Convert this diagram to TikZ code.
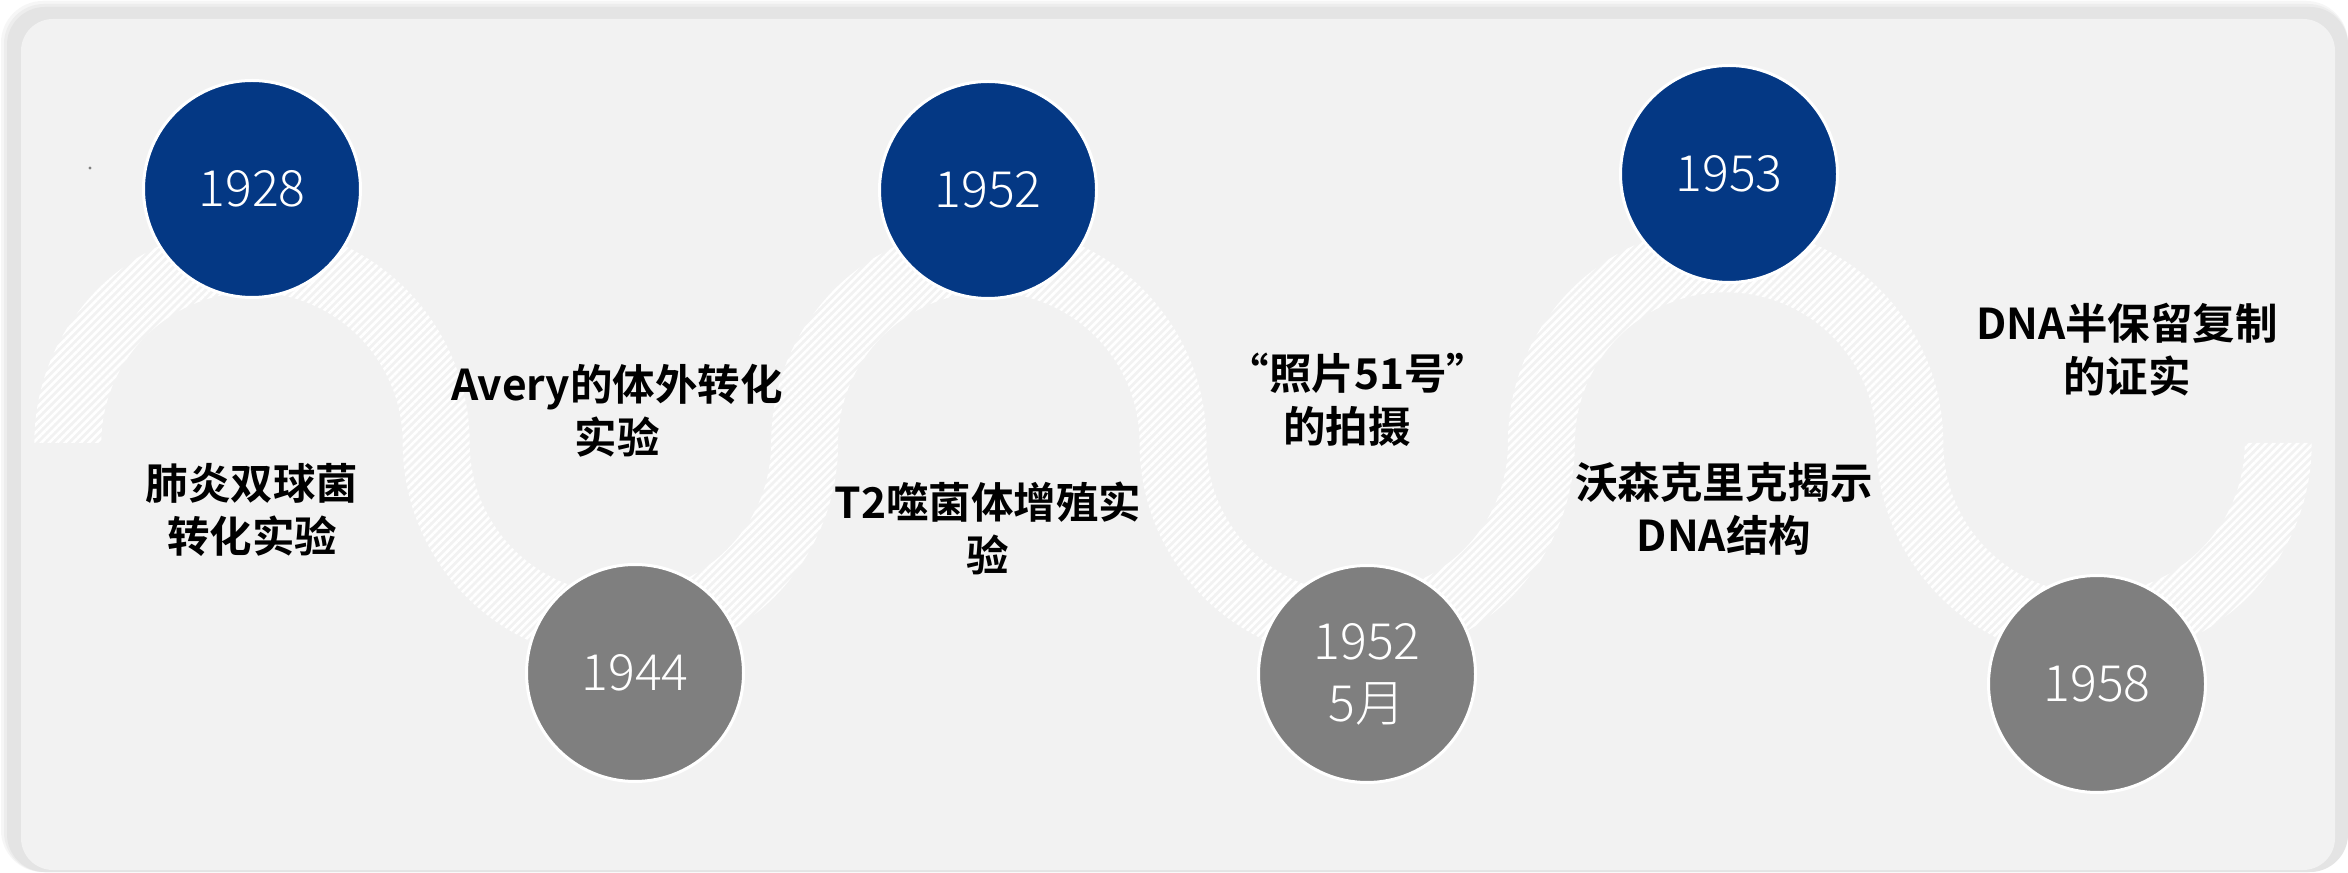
\documentclass[tikz,border=0pt]{standalone}
\usepackage{fontspec}
\newfontfamily\cjkbold{Noto Sans CJK SC Bold}
\newfontfamily\cjklight{Noto Sans CJK SC Light}
\usetikzlibrary{patterns.meta}
\definecolor{panel}{HTML}{F2F2F2}
\definecolor{navy}{HTML}{043884}
\definecolor{midgray}{HTML}{7F7F7F}
\definecolor{shadowA}{HTML}{F6F6F6}
\definecolor{shadowB}{HTML}{EDEDED}
\definecolor{shadowC}{HTML}{E4E4E4}
\begin{document}
\begin{tikzpicture}[x=0.5pt,y=0.5pt,
  yearbox/.style={circle, minimum size=108.5pt, inner sep=0pt, fill=#1, draw=white,
    line width=1.5pt, text=white, align=center,
    font=\cjklight\fontsize{25}{31}\selectfont},
  textlabel/.style={inner sep=0pt, align=center, text=black,
    font=\cjkbold\fontsize{21.25}{26.5}\selectfont},
  bandfill/.style={pattern={Lines[angle=45,distance=2.8pt,line width=1.3pt]}, pattern color=white}]
% canvas and panel
\fill[white] (0,0) rectangle (2348,872);
\useasboundingbox (0,0) rectangle (2348,872);
\fill[shadowA, rounded corners=21pt] (1,0) rectangle (2348,871);
\fill[shadowB, rounded corners=20pt] (4,0) rectangle (2348,868);
\fill[shadowC, rounded corners=19pt] (7,0) rectangle (2348,865);
\fill[panel, rounded corners=16pt] (21,2) rectangle (2335,853);
% hatched wave band
\path[bandfill] (34.3,429)
  arc[start angle=180,end angle=0,radius=108.85pt]
  arc[start angle=180,end angle=360,radius=75.35pt]
  arc[start angle=180,end angle=0,radius=108.85pt]
  arc[start angle=180,end angle=360,radius=75.35pt]
  arc[start angle=180,end angle=0,radius=108.85pt]
  arc[start angle=180,end angle=360,radius=75.35pt]
  -- ++(67,0)
  arc[start angle=0,end angle=-180,radius=108.85pt]
  arc[start angle=0,end angle=180,radius=75.35pt]
  arc[start angle=0,end angle=-180,radius=108.85pt]
  arc[start angle=0,end angle=180,radius=75.35pt]
  arc[start angle=0,end angle=-180,radius=108.85pt]
  arc[start angle=0,end angle=180,radius=75.35pt]
  -- cycle;
% tiny dot
\fill[gray] (90,704) circle (0.8pt);
% year circles
\node[yearbox=navy] (y1928) at (252,683) {1928};
\node[yearbox=midgray] (y1944) at (635,199) {1944};
\node[yearbox=navy] (y1952) at (988,682) {1952};
\node[yearbox=midgray] (y1952m) at (1367,198) {1952\\5月};
\node[yearbox=navy] (y1953) at (1729,698) {1953};
\node[yearbox=midgray] (y1958) at (2097,188) {1958};
% labels
\node[textlabel] (t1) at (252,362.5) {肺炎双球菌\\转化实验};
\node[textlabel] (t2) at (617,461) {Avery的体外转化\\实验};
\node[textlabel] (t3) at (988,343.5) {T2噬菌体增殖实\\验};
\node[textlabel] (t4) at (1358,472) {“照片51号”\\的拍摄\hspace*{11pt}};
\node[textlabel] (t5) at (1724,363.5) {沃森克里克揭示\\DNA结构};
\node[textlabel] (t6) at (2127,522.5) {DNA半保留复制\\的证实};
\end{tikzpicture}
\end{document}
